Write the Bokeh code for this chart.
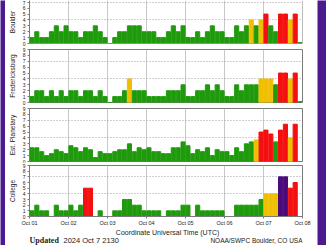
from bokeh.plotting import figure
from bokeh.layouts import column, row
from bokeh.models import Range1d, FixedTicker, Span, ColumnDataSource
from bokeh.embed import file_html
from bokeh.resources import INLINE
from bokeh.core.properties import value

# ---------------- data ----------------
day_labels = ["Oct 01", "Oct 02", "Oct 03", "Oct 04", "Oct 05", "Oct 06", "Oct 07", "Oct 08"]
stations = ["Boulder", "Fredericksburg", "Est. Planetary", "College"]

boulder = [1, 2, 1, 1, 2, 3, 2, 3, 2, 2, 1, 2, 2, 3, 2, 1,
           0, 1, 2, 2, 3, 3, 3, 2, 2, 2, 1, 1, 2, 3, 2, 3,
           1, 1, 2, 1, 2, 3, 2, 2, 1, 1, 3, 2, 3, 4, 3, 4,
           5, 3, 2, 5, 5, 4, 5, 0.15]
fredericksburg = [1, 2, 2, 1, 2, 1, 2, 1, 2, 2, 1, 2, 2, 1, 2, 1,
                  0, 1, 1, 2, 4, 2, 2, 2, 1, 1, 1, 1, 2, 2, 2, 3,
                  1, 1, 2, 2, 3, 2, 3, 2, 1, 1, 3, 2, 3, 3, 3, 4,
                  4, 4, 3, 5, 5, 4, 5, 0.15]
planetary = [2.33, 2.33, 1.67, 1, 1.33, 2, 1.67, 1.33, 2.67, 2.33, 1.67, 2.33, 2, 0.67, 1.67, 1.33,
             1.33, 1.67, 2, 2, 3, 1.67, 2.33, 2, 2.33, 1.67, 1.67, 1.33, 1.33, 2.33, 2.33, 3.33,
             2.67, 1.33, 2, 1.67, 2.33, 1, 2, 1.67, 1.67, 1, 2.33, 1.67, 3, 3.33, 3.67, 5,
             5.33, 4.67, 3.33, 5.33, 6.33, 4, 6.33]
college = [1, 2, 1, 1, 0, 2, 1, 1, 2, 1, 2, 5, 5, 0, 1, 0,
           0, 1, 1, 3, 3, 2, 2, 1, 1, 1, 1, 0, 1, 1, 1, 2,
           2, 0, 2, 1, 1, 1, 1, 1, 0, 0, 2, 2, 2, 2, 2, 3,
           4, 4, 4, 7, 7, 5, 6]

x_title = "Coordinate Universal Time (UTC)"
footer_bold = "Updated"
footer_date = "2024 Oct  7 2130"
footer_right = "NOAA/SWPC Boulder, CO USA"

# ---------------- style ----------------
PURPLE_BG = "#4a1a8e"
GREEN = "#1f9a0c"
YELLOW = "#f0bf00"
RED = "#f41010"
VIOLET = "#4a0a7a"
FRAME = "#7a7a7a"
TEXT = "#222222"
HOURS = 3
N_DAYS = len(day_labels) - 1
X_END = N_DAYS * 24


def kcolor(v):
    c = round(v)
    if c >= 7:
        return VIOLET
    if c >= 5:
        return RED
    if c == 4:
        return YELLOW
    return GREEN


def panel(name, vals, height, top, bottom, ymax, with_x=False, outline=True):
    p = figure(width=312, height=height, toolbar_location=None, output_backend="svg",
               x_range=Range1d(0, X_END), y_range=Range1d(0, ymax),
               x_axis_location="below" if with_x else None,
               min_border_left=19, min_border_right=15,
               min_border_top=top, min_border_bottom=bottom)
    p.background_fill_color = "white"
    p.border_fill_color = "white"
    p.outline_line_color = FRAME if outline else None
    src = ColumnDataSource(dict(
        x=[HOURS * i + HOURS / 2 for i in range(len(vals))],
        top=vals,
        color=[kcolor(v) for v in vals]))
    p.vbar(x="x", top="top", bottom=0, width=HOURS * 0.84, color="color", source=src)

    p.xgrid.ticker = FixedTicker(ticks=[24 * d for d in range(N_DAYS + 1)])
    p.xgrid.grid_line_color = "#c8c8c8"
    p.ygrid.ticker = FixedTicker(ticks=[4, 7])
    p.ygrid.grid_line_color = "#a0a0a0"
    p.ygrid.grid_line_dash = "1 2"

    ya = p.yaxis[0]
    ya.ticker = FixedTicker(ticks=list(range(10)), minor_ticks=[])
    ya.major_label_text_font = "Liberation Sans"
    ya.major_label_text_font_size = "5px"
    ya.major_label_text_color = TEXT
    ya.major_label_standoff = 2
    ya.major_tick_out = 2
    ya.major_tick_in = 0
    ya.major_tick_line_color = FRAME
    ya.axis_line_color = FRAME
    ya.axis_label = name
    ya.axis_label_text_font = "Liberation Sans"
    ya.axis_label_text_font_size = "6.5px"
    ya.axis_label_text_font_style = "normal"
    ya.axis_label_text_color = TEXT
    ya.axis_label_standoff = 4

    if with_x:
        xa = p.xaxis[0]
        xa.ticker = FixedTicker(ticks=[24 * d for d in range(N_DAYS + 1)], minor_ticks=[])
        xa.major_label_overrides = {24 * d: lab for d, lab in enumerate(day_labels)}
        xa.major_label_text_font = "Liberation Sans"
        xa.major_label_text_font_size = "5.5px"
        xa.major_label_text_color = TEXT
        xa.major_label_standoff = 1
        xa.major_tick_out = 2
        xa.major_tick_in = 0
        xa.major_tick_line_color = FRAME
        xa.axis_line_color = FRAME

    if not outline:
        p.add_layout(Span(location=X_END, dimension="height", line_color=FRAME, line_width=1))
        p.add_layout(Span(location=0, dimension="width", line_color=FRAME, line_width=1))
    return p


f1 = panel(stations[0], boulder, 46, 0, 3, 7.3, outline=False)
f2 = panel(stations[1], fredericksburg, 59, 3, 3, 9)
f3 = panel(stations[2], planetary, 58, 3, 2, 9)
f4 = panel(stations[3], college, 65, 2, 10, 9, with_x=True)

# footer: x-axis title line and update/credit line
foot = figure(width=312, height=17, toolbar_location=None, output_backend="svg",
              x_range=Range1d(0, 1), y_range=Range1d(0, 1),
              x_axis_location=None, y_axis_location=None, min_border=0)
foot.outline_line_color = None
foot.xgrid.visible = False
foot.ygrid.visible = False
foot.background_fill_color = "white"
foot.border_fill_color = "white"
foot.text(x=[0.506], y=[0.76], text=[x_title], text_font=value("Liberation Sans"),
          text_font_size="7px", text_baseline="middle", text_align="center", text_color=TEXT)
foot.text(x=[0], y=[0.29], text=[footer_bold], text_font=value("Liberation Serif"),
          text_font_style="bold", text_font_size="8px", text_baseline="middle",
          text_align="left", text_color=TEXT)
foot.text(x=[0], y=[0.29], text=[footer_date], x_offset=34, text_font=value("Liberation Sans"),
          text_font_size="7.5px", text_baseline="middle", text_align="left", text_color=TEXT)
foot.text(x=[1], y=[0.29], text=[footer_right], text_font=value("Liberation Sans"),
          text_font_size="6.5px", text_baseline="middle", text_align="right", text_color=TEXT)


def side(w):
    s = figure(width=w, height=245, toolbar_location=None, output_backend="svg",
               x_axis_location=None, y_axis_location=None, min_border=0,
               x_range=Range1d(0, 1), y_range=Range1d(0, 1))
    s.outline_line_color = None
    s.xgrid.visible = False
    s.ygrid.visible = False
    s.background_fill_color = PURPLE_BG
    s.border_fill_color = PURPLE_BG
    s.scatter(x=[0.5], y=[0.5], size=0, alpha=0)
    return s


layout = row(side(5), column(f1, f2, f3, f4, foot, spacing=0), side(9), spacing=0)

open("out.html", "w").write(file_html(layout, INLINE))
